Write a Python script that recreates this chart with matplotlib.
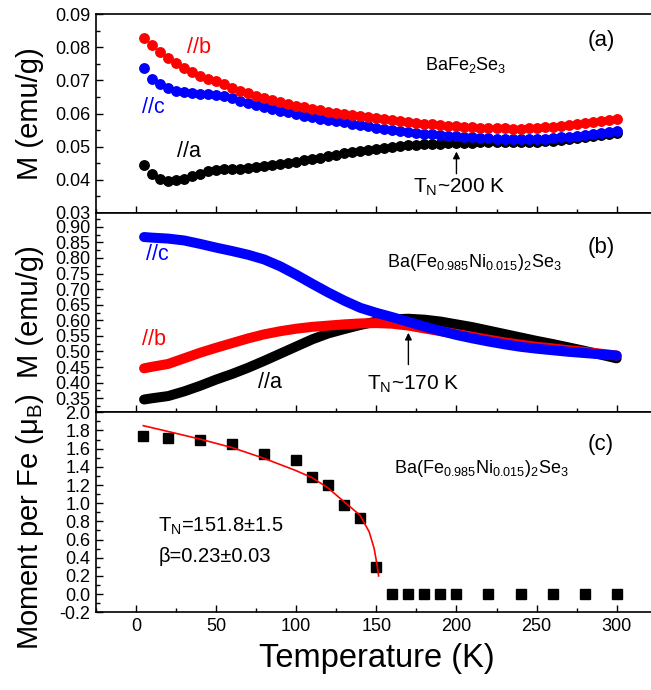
import matplotlib
matplotlib.use("Agg")
import matplotlib.pyplot as plt
from matplotlib.ticker import MultipleLocator, FormatStrFormatter, FixedLocator

plt.rcParams['font.family'] = ['Liberation Sans', 'DejaVu Sans']
plt.rcParams['mathtext.fontset'] = 'custom'
plt.rcParams['mathtext.rm'] = 'Liberation Sans'
plt.rcParams['mathtext.it'] = 'Liberation Sans:italic'
plt.rcParams['mathtext.bf'] = 'Liberation Sans:bold'
plt.rcParams['axes.unicode_minus'] = False

# ---------------- data ----------------
# panel (a): BaFe2Se3, T = 5..300 step 5
T_a = list(range(5, 301, 5))
Ma_b = [0.0830, 0.0806, 0.0785, 0.0767, 0.0752, 0.0738, 0.0725, 0.0714, 0.0705, 0.0697,
        0.0688, 0.0678, 0.0669, 0.0661, 0.0654, 0.0647, 0.0641, 0.0635, 0.0629, 0.0624,
        0.0619, 0.0615, 0.0610, 0.0606, 0.0602, 0.0598, 0.0595, 0.0592, 0.0589, 0.0586,
        0.0584, 0.0581, 0.0578, 0.0575, 0.0572, 0.0569, 0.0567, 0.0565, 0.0563, 0.0561,
        0.0559, 0.0558, 0.0557, 0.0556, 0.0555, 0.0555, 0.0554, 0.0554, 0.0555, 0.0556,
        0.0558, 0.0560, 0.0563, 0.0565, 0.0568, 0.0572, 0.0575, 0.0578, 0.0581, 0.0585]
Ma_c = [0.0738, 0.0705, 0.0688, 0.0676, 0.0669, 0.0665, 0.0662, 0.0660, 0.0658, 0.0656,
        0.0652, 0.0646, 0.0639, 0.0632, 0.0626, 0.0620, 0.0614, 0.0609, 0.0604, 0.0599,
        0.0594, 0.0590, 0.0585, 0.0581, 0.0577, 0.0573, 0.0569, 0.0565, 0.0561, 0.0557,
        0.0553, 0.0550, 0.0547, 0.0544, 0.0541, 0.0539, 0.0537, 0.0535, 0.0533, 0.0531,
        0.0530, 0.0528, 0.0526, 0.0525, 0.0524, 0.0523, 0.0522, 0.0522, 0.0522, 0.0523,
        0.0524, 0.0526, 0.0528, 0.0530, 0.0533, 0.0536, 0.0539, 0.0542, 0.0545, 0.0548]
Ma_a = [0.0445, 0.0418, 0.0402, 0.0397, 0.0398, 0.0402, 0.0410, 0.0418, 0.0425, 0.0429,
        0.0431, 0.0432, 0.0433, 0.0435, 0.0437, 0.0440, 0.0443, 0.0446, 0.0450, 0.0454,
        0.0458, 0.0463, 0.0467, 0.0471, 0.0476, 0.0480, 0.0484, 0.0488, 0.0491, 0.0494,
        0.0497, 0.0500, 0.0502, 0.0504, 0.0506, 0.0507, 0.0508, 0.0509, 0.0510, 0.0511,
        0.0512, 0.0512, 0.0513, 0.0513, 0.0513, 0.0513, 0.0513, 0.0514, 0.0514, 0.0515,
        0.0516, 0.0518, 0.0520, 0.0523, 0.0526, 0.0529, 0.0532, 0.0535, 0.0538, 0.0541]

# panel (b): Ba(Fe0.985Ni0.015)2Se3
T_b = [5, 10, 20, 30, 40, 50, 60, 70, 80, 90, 100, 110, 120, 130, 140, 150,
       160, 170, 180, 190, 200, 210, 220, 230, 240, 250, 260, 270, 280, 290, 300]
Mb_c = [0.867, 0.865, 0.862, 0.856, 0.845, 0.833, 0.822, 0.810, 0.795, 0.773, 0.746,
        0.717, 0.689, 0.663, 0.640, 0.624, 0.610, 0.595, 0.580, 0.566, 0.553, 0.542,
        0.532, 0.523, 0.515, 0.509, 0.504, 0.499, 0.495, 0.491, 0.487]
Mb_b = [0.446, 0.451, 0.460, 0.478, 0.496, 0.512, 0.527, 0.542, 0.555, 0.565, 0.573,
        0.579, 0.583, 0.587, 0.590, 0.591, 0.589, 0.583, 0.574, 0.565, 0.556, 0.547,
        0.538, 0.529, 0.522, 0.515, 0.510, 0.504, 0.499, 0.493, 0.487]
Mb_a = [0.346, 0.350, 0.357, 0.372, 0.390, 0.410, 0.428, 0.448, 0.470, 0.493, 0.516,
        0.539, 0.558, 0.572, 0.585, 0.596, 0.603, 0.605, 0.602, 0.596, 0.587, 0.578,
        0.567, 0.556, 0.545, 0.534, 0.524, 0.513, 0.502, 0.490, 0.478]

# panel (c): ordered moment per Fe
T_c = [4.5, 20, 40, 60, 80, 100, 110, 120, 130, 140, 150,
       160, 170, 180, 190, 200, 220, 240, 260, 280, 300]
Mom = [1.743, 1.721, 1.692, 1.651, 1.545, 1.475, 1.292, 1.204, 0.984, 0.841, 0.298,
       0.0, 0.0, 0.0, 0.0, 0.0, 0.0, 0.0, 0.0, 0.0, 0.0]
# power-law fit curve
T_fit = [4.5, 20.5, 40.4, 60.1, 79.8, 99.9, 109.9, 119.6, 129.8, 139.7, 145.5, 148.6, 150.1, 150.9, 151.4]
M_fit = [1.853, 1.787, 1.703, 1.611, 1.494, 1.358, 1.281, 1.171, 1.017, 0.870, 0.686, 0.504, 0.356, 0.265, 0.20]

x_ticks = [0, 50, 100, 150, 200, 250, 300]
ya_ticks = [0.03, 0.04, 0.05, 0.06, 0.07, 0.08, 0.09]
yb_ticks = [0.35, 0.40, 0.45, 0.50, 0.55, 0.60, 0.65, 0.70, 0.75, 0.80, 0.85, 0.90]
yc_ticks = [-0.2, 0.0, 0.2, 0.4, 0.6, 0.8, 1.0, 1.2, 1.4, 1.6, 1.8, 2.0]

# ---------------- figure ----------------
W, H = 651, 690
fig = plt.figure(figsize=(W / 100, H / 100), dpi=100)

left = 96 / W
width = 560.7 / W
def rect(top_px, bot_px):
    return [left, 1 - bot_px / H, width, (bot_px - top_px) / H]

ax_a = fig.add_axes(rect(14.4, 212.7))
ax_b = fig.add_axes(rect(212.7, 412.3))
ax_c = fig.add_axes(rect(412.3, 612.3))

tick_fs = 13
for ax in (ax_a, ax_b, ax_c):
    ax.set_xlim(-25, 325)
    ax.xaxis.set_major_locator(FixedLocator(x_ticks))
    ax.xaxis.set_minor_locator(MultipleLocator(25))
    ax.tick_params(which='both', direction='in', top=False, right=False,
                   width=1.0, labelsize=tick_fs, pad=4)
    ax.tick_params(which='major', length=5)
    ax.tick_params(which='minor', length=3)
    ax.spines['right'].set_visible(False)
    for s in ('left', 'top', 'bottom'):
        ax.spines[s].set_linewidth(1.2)

ax_a.tick_params(axis='x', labelbottom=False)
ax_b.tick_params(axis='x', labelbottom=False)

# panel (a)
ax_a.set_ylim(0.03, 0.09)
ax_a.yaxis.set_major_locator(FixedLocator(ya_ticks))
ax_a.yaxis.set_minor_locator(MultipleLocator(0.005))
ax_a.yaxis.set_major_formatter(FormatStrFormatter('%.2f'))
ms = 6.8
ax_a.plot(T_a, Ma_a, 'o', color='black', ms=ms, mec='black', zorder=3)
ax_a.plot(T_a, Ma_c, 'o', color='blue', ms=ms, mec='blue', zorder=4)
ax_a.plot(T_a, Ma_b, 'o', color='red', ms=ms, mec='red', zorder=5)
ax_a.text(32, 0.0801, '//b', color='red', fontsize=15.5, va='center', ha='left')
ax_a.text(3.5, 0.0619, '//c', color='blue', fontsize=15.5, va='center', ha='left')
ax_a.text(25.5, 0.0485, '//a', color='black', fontsize=15.5, va='center', ha='left')
ax_a.text(180.5, 0.0748, r'BaFe$_2$Se$_3$', fontsize=13, va='center', ha='left')
ax_a.text(282, 0.0822, '(a)', fontsize=16, va='center', ha='left')
ax_a.annotate('', xy=(200, 0.0485), xytext=(200, 0.0418),
              arrowprops=dict(arrowstyle='-|>', color='black', lw=1.0,
                              mutation_scale=10, shrinkA=0, shrinkB=0))
ax_a.text(173, 0.0376, r'T$_\mathrm{N}$~200 K', fontsize=15, va='center', ha='left')

# panel (b)
ax_b.set_ylim(0.305, 0.945)
ax_b.yaxis.set_major_locator(FixedLocator(yb_ticks))
ax_b.yaxis.set_minor_locator(MultipleLocator(0.025))
ax_b.yaxis.set_major_formatter(FormatStrFormatter('%.2f'))
lw = 7.2
ax_b.plot(T_b, Mb_a, '-', color='black', lw=lw, solid_capstyle='round', solid_joinstyle='round', zorder=3)
ax_b.plot(T_b, Mb_b, '-', color='red', lw=lw, solid_capstyle='round', solid_joinstyle='round', zorder=4)
ax_b.plot(T_b, Mb_c, '-', color='blue', lw=lw, solid_capstyle='round', solid_joinstyle='round', zorder=5)
ax_b.text(6, 0.810, '//c', color='blue', fontsize=15.5, va='center', ha='left')
ax_b.text(4, 0.538, '//b', color='red', fontsize=15.5, va='center', ha='left')
ax_b.text(76, 0.399, '//a', color='black', fontsize=15.5, va='center', ha='left')
ax_b.text(282, 0.832, '(b)', fontsize=16, va='center', ha='left')
ax_b.text(156.5, 0.784, r'Ba(Fe$_{0.985}$Ni$_{0.015}$)$_2$Se$_3$', fontsize=13, va='center', ha='left')
ax_b.annotate('', xy=(170, 0.560), xytext=(170, 0.458),
              arrowprops=dict(arrowstyle='-|>', color='black', lw=1.0,
                              mutation_scale=10, shrinkA=0, shrinkB=0))
ax_b.text(144, 0.394, r'T$_\mathrm{N}$~170 K', fontsize=15, va='center', ha='left')

# panel (c)
ax_c.set_ylim(-0.2, 2.0)
ax_c.yaxis.set_major_locator(FixedLocator(yc_ticks))
ax_c.yaxis.set_minor_locator(MultipleLocator(0.1))
ax_c.yaxis.set_major_formatter(FormatStrFormatter('%.1f'))
ax_c.plot(T_c, Mom, 's', color='black', ms=6.6, zorder=3)
ax_c.plot(T_fit, M_fit, '-', color='red', lw=1.2, zorder=4)
ax_c.text(282, 1.648, '(c)', fontsize=16, va='center', ha='left')
ax_c.text(161, 1.384, r'Ba(Fe$_{0.985}$Ni$_{0.015}$)$_2$Se$_3$', fontsize=13, va='center', ha='left')
ax_c.text(14, 0.742, r'T$_\mathrm{N}$=151.8±1.5', fontsize=14.5, va='center', ha='left')
ax_c.text(14, 0.411, 'β=0.23±0.03', fontsize=14.5, va='center', ha='left')
ax_c.set_xlabel('Temperature (K)', fontsize=23.5, labelpad=6)

# y labels
lab_x = 30 / W
fig.text(lab_x, 1 - 114 / H, 'M (emu/g)', rotation=90, fontsize=21, ha='center', va='center')
fig.text(lab_x, 1 - 312 / H, 'M (emu/g)', rotation=90, fontsize=21, ha='center', va='center')
fig.text(lab_x, 1 - 522 / H, r'Moment per Fe ($\mathrm{\mu}_\mathrm{B}$)', rotation=90,
         fontsize=21, ha='center', va='center')

fig.savefig('out.png', dpi=100)
